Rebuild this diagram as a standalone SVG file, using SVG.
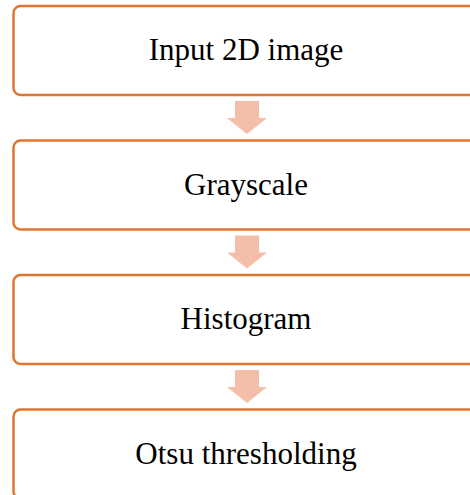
<svg xmlns="http://www.w3.org/2000/svg" width="470" height="495" viewBox="0 0 470 495">
<style>
.box{fill:#fff;stroke:#df7630;stroke-width:2.5}
.lbl{font-family:"Liberation Serif","Times New Roman",serif;font-size:31px;fill:#000;text-anchor:middle}
.arr{fill:#f4bfa8}
</style>
<rect width="470" height="495" fill="#fff"/>
<g id="connectors">
<polygon class="arr" points="235,101 259,101 259,118 267,118 247,134 227,118 235,118"/>
<polygon class="arr" points="235,235.5 259,235.5 259,252.5 267,252.5 247,268.5 227,252.5 235,252.5"/>
<polygon class="arr" points="235,370 259,370 259,387 267,387 247,403 227,387 235,387"/>
</g>
<g id="n1"><rect class="box" x="13.5" y="6" width="470" height="89" rx="7"/><text class="lbl" x="246" y="60">Input 2D image</text></g>
<g id="n2"><rect class="box" x="13.5" y="140.5" width="470" height="89" rx="7"/><text class="lbl" x="246" y="194.5">Grayscale</text></g>
<g id="n3"><rect class="box" x="13.5" y="275" width="470" height="89" rx="7"/><text class="lbl" x="246" y="329">Histogram</text></g>
<g id="n4"><rect class="box" x="13.5" y="409.5" width="470" height="89" rx="7"/><text class="lbl" x="246" y="463.5">Otsu thresholding</text></g>
</svg>
